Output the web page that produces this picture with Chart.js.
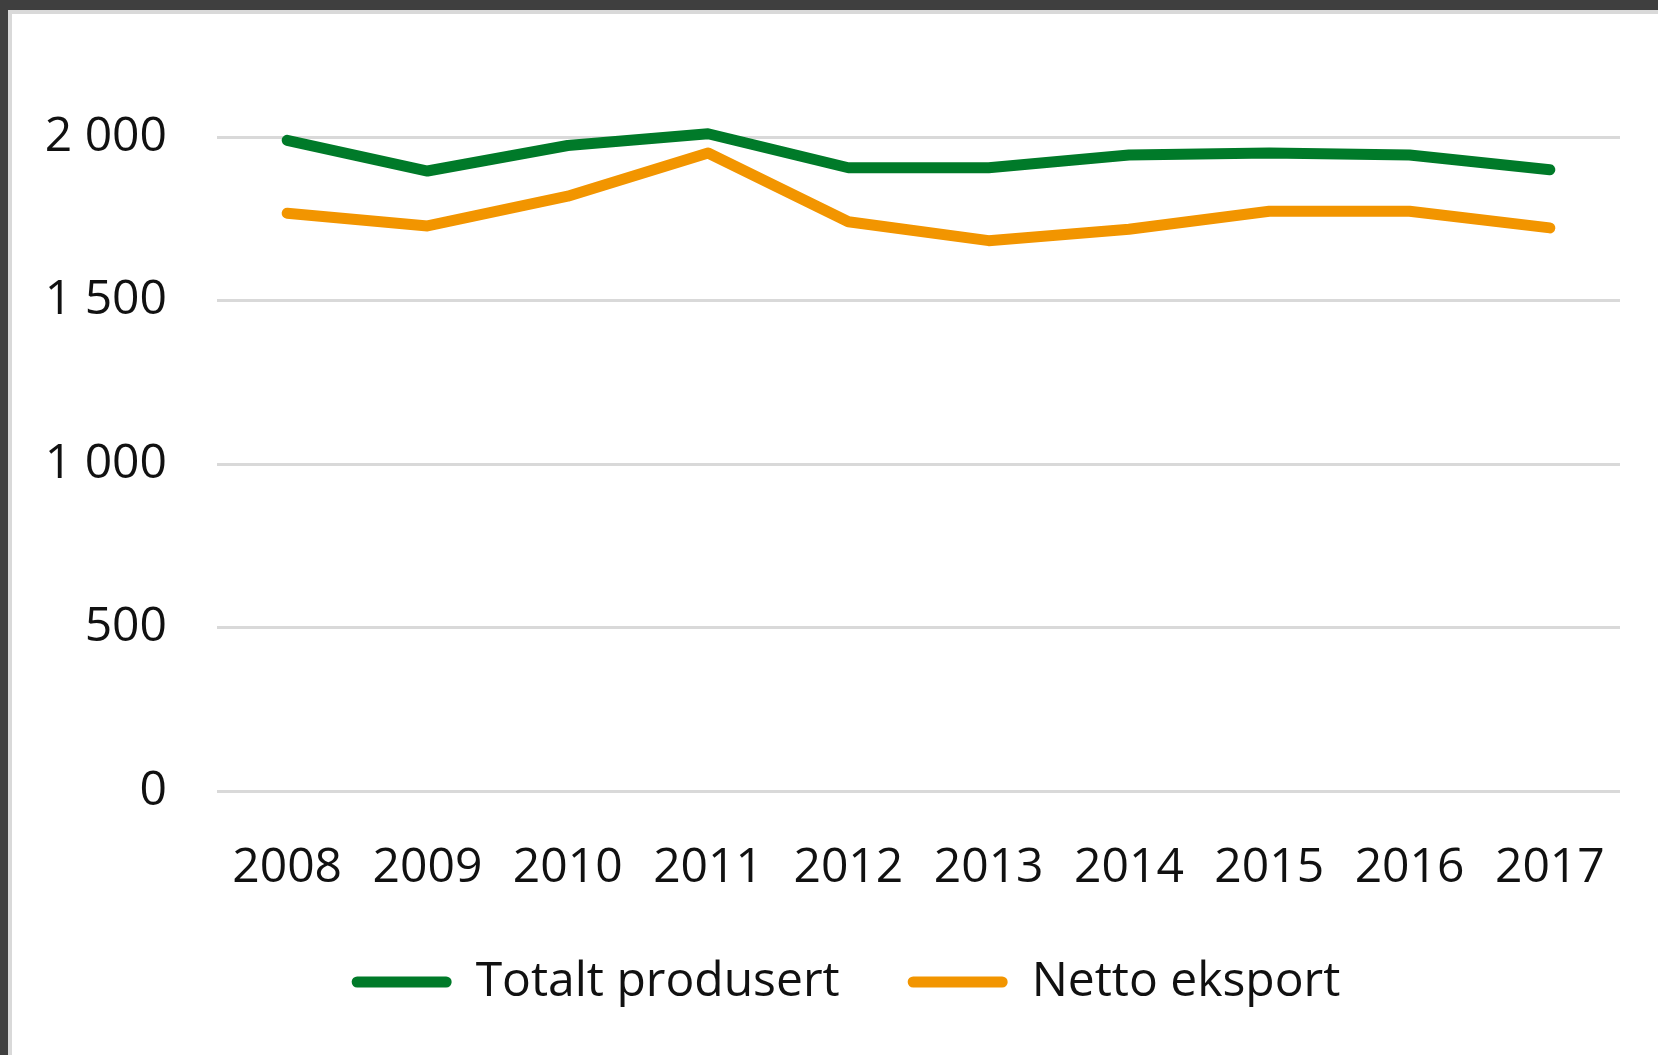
<!DOCTYPE html>
<html>
<head>
<meta charset="utf-8">
<script src="https://cdn.jsdelivr.net/npm/chart.js@4/dist/chart.umd.min.js"></script>
<style>
  html, body { margin: 0; padding: 0; }
  body { width: 1658px; height: 1055px; background: #3f3f3f; overflow: hidden; position: relative; }
  #frame {
    position: absolute; left: 8px; top: 10px; right: 0; bottom: 0;
    background: #fff; border-top: 4px solid #d9d9d9; border-left: 4px solid #d9d9d9;
  }
  #chart { display: block; }
</style>
</head>
<body>
<div id="frame"><canvas id="chart" width="1646" height="1041"></canvas></div>
<script>
const years = ['2008', '2009', '2010', '2011', '2012', '2013', '2014', '2015', '2016', '2017'];
const totaltProdusert = [1990, 1896, 1974, 2010, 1906, 1906, 1945, 1951, 1945, 1900];
const nettoEksport = [1767, 1728, 1819, 1951, 1741, 1683, 1718, 1773, 1773, 1722];

const FONT = '"Open Sans", "Noto Sans", sans-serif';

function formatTick(value) {
  // norsk tusenskille med mellomrom
  return String(value).replace(/\B(?=(\d{3})+(?!\d))/g, ' ');
}

// legenden står litt til høyre for midten i originalen
const legendShift = {
  id: 'legendShift',
  afterLayout(chart) {
    if (chart.legend) {
      chart.legend.left += 60;
    }
  }
};

const ctx = document.getElementById('chart');
new Chart(ctx, {
  type: 'line',
  data: {
    labels: years,
    datasets: [
      {
        label: 'Totalt produsert',
        data: totaltProdusert,
        borderColor: '#007a29',
        backgroundColor: '#007a29',
        borderWidth: 11,
        borderCapStyle: 'round',
        borderJoinStyle: 'round',
        pointRadius: 0,
        tension: 0,
        clip: false
      },
      {
        label: 'Netto eksport',
        data: nettoEksport,
        borderColor: '#f29500',
        backgroundColor: '#f29500',
        borderWidth: 11,
        borderCapStyle: 'round',
        borderJoinStyle: 'round',
        pointRadius: 0,
        tension: 0,
        clip: false
      }
    ]
  },
  options: {
    responsive: false,
    animation: false,
    layout: {
      padding: { left: 0, top: 123, right: 38, bottom: 39 }
    },
    plugins: {
      tooltip: { enabled: false },
      legend: {
        display: true,
        position: 'bottom',
        labels: {
          color: '#111',
          font: { family: FONT, size: 48 },
          boxWidth: 100,
          boxHeight: 11,
          useBorderRadius: true,
          borderRadius: 5.5,
          padding: 68,
          generateLabels: (chart) => {
            const items = Chart.defaults.plugins.legend.labels.generateLabels(chart);
            return items.map((item) => ({ ...item, lineWidth: 0 }));
          }
        }
      }
    },
    scales: {
      x: {
        offset: true,
        afterFit: (scale) => { scale.height = 99; },
        grid: { display: false, drawTicks: false },
        border: { display: false },
        ticks: {
          color: '#111',
          font: { family: FONT, size: 48 },
          padding: 49,
          maxRotation: 0,
          autoSkip: false
        }
      },
      y: {
        min: 0,
        max: 2000,
        afterFit: (scale) => { scale.width = 205; },
        grid: { color: '#d9d9d9', lineWidth: 3, drawTicks: false },
        border: { display: false },
        ticks: {
          stepSize: 500,
          color: '#111',
          font: { family: FONT, size: 48 },
          padding: 50,
          callback: (value) => formatTick(value)
        }
      }
    }
  },
  plugins: [legendShift]
});
</script>
</body>
</html>
